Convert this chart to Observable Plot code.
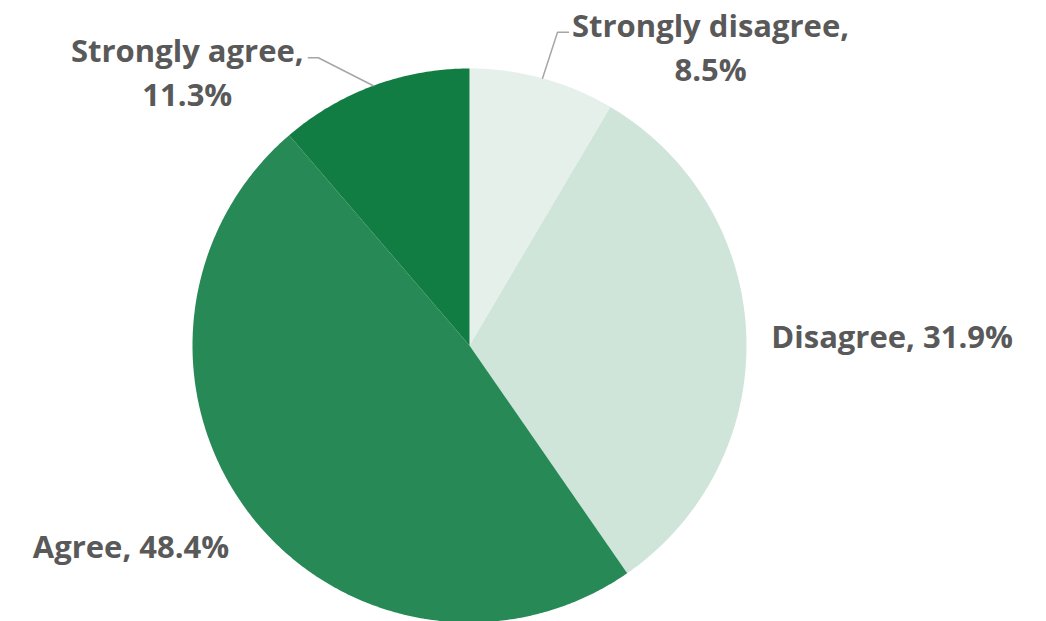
<!DOCTYPE html>
<html>
<head>
<meta charset="utf-8">
<script src="https://cdn.jsdelivr.net/npm/d3@7"></script>
<script src="https://cdn.jsdelivr.net/npm/@observablehq/plot@0.6"></script>
<style>
  html, body { margin: 0; padding: 0; background: #fff; }
  #chart svg { display: block; }
</style>
</head>
<body>
<div id="chart"></div>
<script>
// ---- data ----
const categories = ["Strongly disagree", "Disagree", "Agree", "Strongly agree"];
const values = [8.5, 31.9, 48.4, 11.3];
const colors = ["#e5f0ea", "#cfe5da", "#278955", "#127d43"];
const labelText = ["Strongly disagree,\n8.5%", "Disagree, 31.9%", "Agree, 48.4%", "Strongly agree,\n11.3%"];

// ---- layout ----
const W = 1046, H = 621;
const cx = 469, cy = 345, R = 277;
// label offsets relative to the arc point at each slice's mid-angle
const labelLayout = {
  "Strongly disagree": {dx: 168, dy: -33, anchor: "middle", leader: [[15, -46], [26, -46]]},
  "Disagree": {dx: 25, dy: -2, anchor: "start"},
  "Agree": {dx: -21, dy: 29, anchor: "end"},
  "Strongly agree": {dx: -186, dy: -16, anchor: "middle", leader: [[-55, -28], [-65, -28]]}
};

const pie = d3.pie().sort(null).value(d => d.value);
const data = categories.map((c, i) => ({category: c, value: values[i], color: colors[i], label: labelText[i]}));
const arcs = pie(data);

// polygon points for each slice
const polys = [];
arcs.forEach(a => {
  const n = Math.max(2, Math.ceil((a.endAngle - a.startAngle) / (Math.PI * 2) * 720));
  polys.push({cat: a.data.category, x: cx, y: cy});
  for (let k = 0; k <= n; k++) {
    const t = a.startAngle + (a.endAngle - a.startAngle) * k / n;
    polys.push({cat: a.data.category, x: cx + R * Math.sin(t), y: cy - R * Math.cos(t)});
  }
  polys.push({cat: a.data.category, x: cx, y: cy});
});

const labels = arcs.map(a => {
  const m = (a.startAngle + a.endAngle) / 2;
  const px = cx + R * Math.sin(m), py = cy - R * Math.cos(m);
  const L = labelLayout[a.data.category];
  return {cat: a.data.category, text: a.data.label, px, py, x: px + L.dx, y: py + L.dy, anchor: L.anchor, leader: L.leader};
});

const leaders = [];
labels.forEach(l => {
  if (!l.leader) return;
  leaders.push({cat: l.cat, x: l.px, y: l.py});
  l.leader.forEach(([ox, oy]) => leaders.push({cat: l.cat, x: l.px + ox, y: l.py + oy}));
});

const font = "'Open Sans', 'Noto Sans', sans-serif";
const textMark = (anchor) => Plot.text(labels.filter(l => l.anchor === anchor), {
  x: "x", y: "y", text: "text", textAnchor: anchor, lineAnchor: "middle",
  fill: "#595959", fontSize: 31, fontWeight: "bold", lineHeight: 1.42, fontFamily: font
});

const chart = Plot.plot({
  width: W, height: H,
  margin: 0,
  x: {domain: [0, W], range: [0, W], axis: null},
  y: {domain: [0, H], range: [0, H], axis: null},
  color: {domain: categories, range: colors},
  style: {fontFamily: font, background: "#fff"},
  marks: [
    Plot.line(polys, {x: "x", y: "y", z: "cat", fill: "cat", stroke: "none", curve: "linear"}),
    Plot.line(leaders, {x: "x", y: "y", z: "cat", stroke: "#a6a6a6", strokeWidth: 1.5}),
    textMark("middle"), textMark("start"), textMark("end")
  ]
});
document.getElementById("chart").appendChild(chart);
</script>
</body>
</html>
